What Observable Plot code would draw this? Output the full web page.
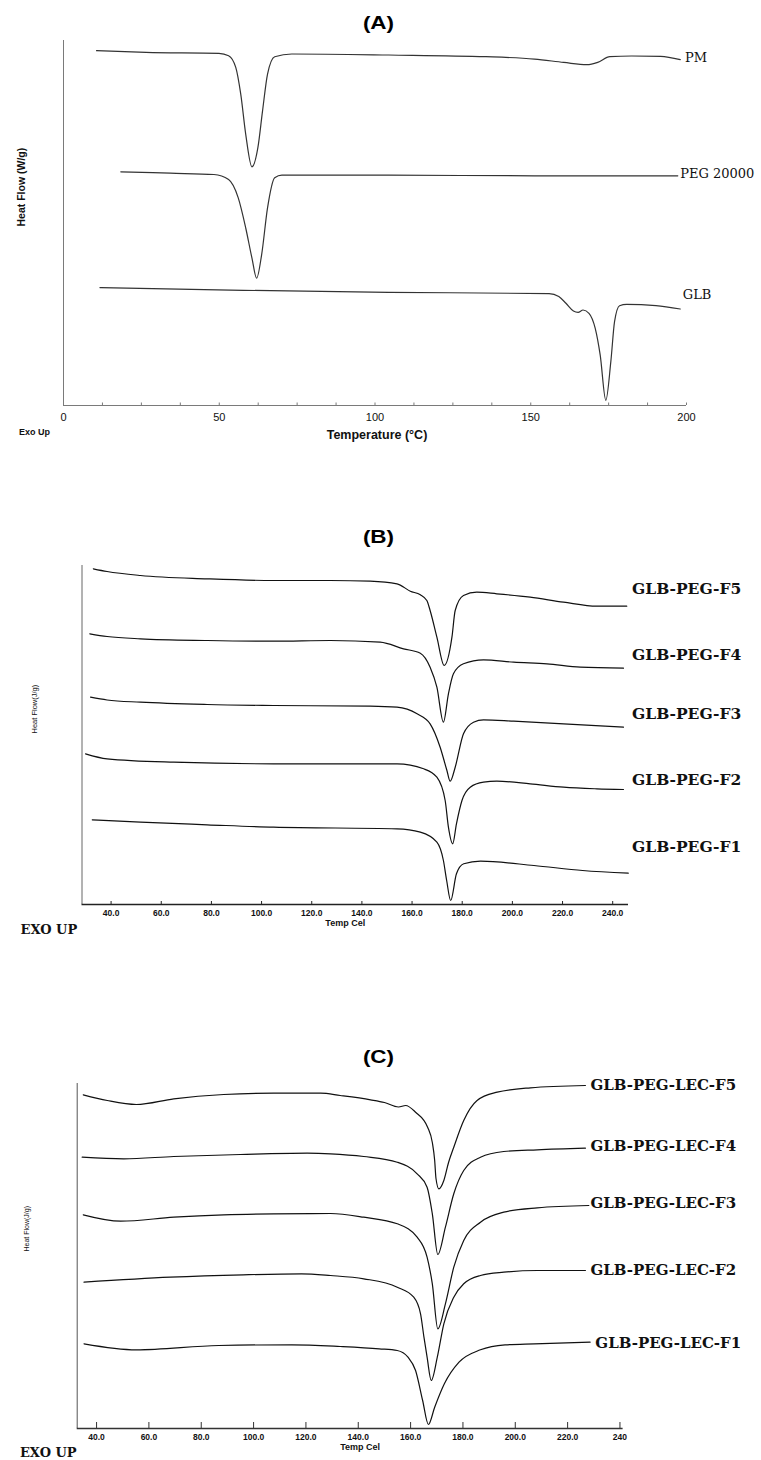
<!DOCTYPE html>
<html>
<head>
<meta charset="utf-8">
<script src="https://cdn.jsdelivr.net/npm/d3@7"></script>
<script src="https://cdn.jsdelivr.net/npm/@observablehq/plot@0.6"></script>
<style>
  body { margin: 0; background: #fff; }
  #page { position: relative; width: 761px; height: 1460px; overflow: hidden; font-family: "Liberation Sans", Arial, sans-serif; }
  .title { position: absolute; left: 278px; width: 200px; text-align: center; font-weight: bold; font-size: 18px; line-height: 18px; color: #000; }
  .title span { display: inline-block; transform: scaleX(1.25); }
  .panel { position: absolute; left: 0; }
  .panel svg { overflow: visible; }
</style>
</head>
<body>
<div id="page"></div>
<script>
// ---------------- Panel A (DSC: PM, PEG 20000, GLB) ----------------
const aSeries = ["PM", "PEG 20000", "GLB"];
const pmTemp = [10.6, 26.5, 49.9, 53, 55.3, 56.9, 58.5, 60.5, 62.4, 63.9, 65.5, 67.8, 73.3, 104.4, 135.6, 151.2, 160.6, 168, 171.5, 175.4, 182.4, 191.7, 198];
const pmHF   = [35.48, 35.31, 35.21, 34.98, 33.81, 31.13, 27.12, 23.87, 25.78, 29.46, 33.14, 34.88, 35.15, 35.05, 34.88, 34.64, 34.31, 34.08, 34.31, 34.88, 34.95, 34.91, 34.58];
const pegTemp = [18.4, 34.3, 48.3, 53, 56.1, 58.5, 60.5, 62, 63.6, 65.5, 67.8, 70.1, 104.4, 151.2, 197.2];
const pegHF   = [23.37, 23.23, 23.1, 22.6, 20.76, 17.75, 14.74, 12.73, 15.07, 19.76, 22.77, 23.03, 23.03, 22.97, 22.97];
const glbTemp = [11.7, 57.7, 104.4, 155.9, 159, 161.3, 163.7, 165.2, 166.8, 168.7, 170.7, 172.3, 174.1, 175.7, 176.9, 178.5, 180.8, 190.2, 198];
const glbHF   = [11.79, 11.52, 11.32, 11.19, 10.89, 10.22, 9.45, 9.32, 9.55, 9.22, 7.71, 5.03, 0.52, 4.36, 8.38, 9.98, 10.12, 9.98, 9.65];
const aLabelTemp = [199.5, 198, 198.8];
const aLabelHF = [34.81, 23.17, 11.05];
const aTicks = [0, 50, 100, 150, 200];
const aTickLabels = ["0", "50", "100", "150", "200"];
const aMinorTicks = [12.5, 25, 37.5, 62.5, 75, 87.5, 112.5, 125, 137.5, 162.5, 175, 187.5];
const aDomainX = [0, 200];
const aDomainY = [0, 36.5];

// ---------------- Panel B (GLB-PEG F1–F5) ----------------
const bSeries = ["GLB-PEG-F5", "GLB-PEG-F4", "GLB-PEG-F3", "GLB-PEG-F2", "GLB-PEG-F1"];
const bF5Temp = [32.9, 38.4, 51.7, 78.3, 104.8, 127.4, 143.3, 154, 159.3, 163.3, 165.9, 167.2, 169.9, 172.8, 175.9, 177.2, 180.5, 185.8, 193.8, 207.1, 220.4, 233.7, 245.6];
const bF5HF   = [33.57, 33.3, 32.9, 32.57, 32.4, 32.4, 32.33, 32.07, 31.33, 30.97, 30.4, 29.4, 26.73, 23.9, 26.73, 29.4, 30.9, 31.23, 31.07, 30.73, 30.23, 29.83, 29.83];
const bF4Temp = [31.5, 38.4, 51.7, 78.3, 104.8, 127.4, 147.3, 156.6, 163.3, 167.2, 169.9, 172.5, 174.5, 176.5, 180.5, 188.5, 200.5, 213.8, 227.1, 244.3];
const bF4HF   = [27.07, 26.8, 26.57, 26.4, 26.33, 26.4, 26.23, 25.57, 25.13, 23.73, 21.73, 18.23, 21.07, 23.07, 24.07, 24.47, 24.23, 24.07, 23.73, 23.63];
const bF3Temp = [31.8, 38.4, 51.7, 78.3, 104.8, 143.3, 154, 162, 167.2, 171.2, 173.9, 175.2, 177.2, 180.5, 184.5, 188.5, 200.5, 220.4, 244.3];
const bF3HF   = [20.73, 20.45, 20.23, 20.0, 19.9, 19.83, 19.73, 19.07, 18.07, 15.73, 13.4, 12.33, 13.73, 17.07, 18.23, 18.47, 18.33, 18.07, 17.73];
const bF2Temp = [29.8, 38.4, 65, 104.8, 154, 164.6, 169.9, 173.2, 174.5, 176.2, 177.7, 179.9, 183.2, 188.5, 193.8, 207.1, 220.4, 233.7, 244.3];
const bF2HF   = [15.07, 14.57, 14.23, 14.07, 14.07, 13.57, 12.73, 10.4, 7.73, 6.07, 8.07, 10.4, 11.73, 12.23, 12.33, 12.07, 11.73, 11.57, 11.5];
const bF1Temp = [32.5, 51.7, 78.3, 104.8, 154, 163.3, 169.9, 172.5, 173.8, 175.4, 177.7, 180.6, 187.3, 208.6, 228, 246.2];
const bF1HF   = [8.47, 8.23, 7.97, 7.73, 7.57, 7.23, 6.23, 4.4, 2.4, 0.4, 3.07, 4.07, 4.33, 3.9, 3.4, 3.13];
const bLabelTemp = [247.7, 247.7, 247.7, 247.7, 247.7];
const bLabelHF = [31.57, 24.9, 19.0, 12.4, 5.73];
const bTicks = [40, 60, 80, 100, 120, 140, 160, 180, 200, 220, 240];
const bTickLabels = ["40.0", "60.0", "80.0", "100.0", "120.0", "140.0", "160.0", "180.0", "200.0", "220.0", "240.0"];
const bDomainX = [28.4, 246.3];
const bDomainY = [0, 33.9];

// ---------------- Panel C (GLB-PEG-LEC F1–F5) ----------------
const cSeries = ["GLB-PEG-LEC-F5", "GLB-PEG-LEC-F4", "GLB-PEG-LEC-F3", "GLB-PEG-LEC-F2", "GLB-PEG-LEC-F1"];
const cF5Temp = [34.9, 44.1, 55.2, 69.5, 88.6, 107.7, 125.6, 133.1, 144.7, 150, 155.4, 158.1, 161.9, 166.5, 168.3, 169.2, 169.7, 170.8, 172.7, 174.5, 176.5, 180.3, 185.4, 193.1, 205.8, 226.8];
const cF5HF   = [33.37, 32.8, 32.4, 32.97, 33.4, 33.53, 33.53, 33.3, 32.87, 32.6, 32.15, 32.3, 31.63, 30.13, 28.6, 26.8, 25.0, 23.97, 24.8, 26.6, 28.13, 30.8, 32.8, 33.63, 34.07, 34.3];
const cF4Temp = [34.5, 50.4, 69.5, 95, 120.5, 129.4, 142.1, 154.9, 162.5, 166.3, 168.3, 170.4, 173.3, 176.5, 180.3, 186.7, 195.6, 208.4, 226.8];
const cF4HF   = [27.13, 26.97, 27.2, 27.4, 27.53, 27.47, 27.2, 26.63, 25.47, 24.13, 21.47, 17.4, 20.13, 23.47, 25.8, 27.13, 27.7, 27.87, 28.03];
const cF3Temp = [34.9, 49.2, 69.5, 88.6, 107.7, 129.4, 142.1, 154.9, 162.5, 166.3, 168.3, 170.4, 173.3, 176.5, 180.3, 186.7, 195.6, 208.4, 228.1];
const cF3HF   = [21.37, 20.73, 21.13, 21.37, 21.47, 21.5, 21.13, 20.47, 19.13, 17.13, 14.47, 9.97, 12.47, 16.13, 18.8, 20.63, 21.63, 22.07, 22.3];
const cF2Temp = [35.2, 68.2, 96, 118.3, 129.4, 142.1, 154.9, 161.2, 163.8, 165.1, 166.3, 167.9, 170.2, 172.7, 176.5, 180.3, 186.7, 195.6, 208.4, 226.8];
const cF2HF   = [14.63, 15.13, 15.37, 15.47, 15.3, 14.97, 14.13, 13.13, 11.47, 9.13, 7.13, 4.8, 7.13, 10.47, 13.13, 14.47, 15.3, 15.63, 15.8, 15.8];
const cF1Temp = [35.2, 55.2, 86.7, 114.6, 133.1, 148, 154.9, 159, 161.9, 164.6, 166.8, 169.2, 172.9, 178.5, 186.7, 196.1, 207.3, 228.6];
const cF1HF   = [8.47, 7.87, 8.3, 8.37, 8.2, 7.97, 7.8, 7.13, 5.8, 2.8, 0.4, 2.13, 4.47, 6.63, 7.87, 8.37, 8.47, 8.63];
const cLabelTemp = [228.7, 228.7, 228.7, 228.7, 230.6];
const cLabelHF = [34.3, 28.2, 22.57, 15.87, 8.53];
const cTicks = [40, 60, 80, 100, 120, 140, 160, 180, 200, 220, 240];
const cTickLabels = ["40.0", "60.0", "80.0", "100.0", "120.0", "140.0", "160.0", "180.0", "200.0", "220.0", "240"];
const cDomainX = [32.6, 241.2];
const cDomainY = [0, 34.5];

// ---------------- helpers ----------------
function rowsOf(names, temps, hfs) {
  return names.flatMap((s, k) => temps[k].map((t, i) => ({series: s, t, hf: hfs[k][i]})));
}

function makePanel(o) {
  const frameH = o.height - o.marginTop - o.marginBottom;
  const tickMap = new Map(o.ticks.map((t, i) => [t, o.tickLabels[i]]));
  const labels = o.series.map((s, i) => ({s, t: o.labelTemp[i], hf: o.labelHF[i]}));
  return Plot.plot({
    width: 761,
    height: o.height,
    marginTop: o.marginTop,
    marginBottom: o.marginBottom,
    marginLeft: o.marginLeft,
    marginRight: o.marginRight,
    style: {background: "transparent", fontFamily: "'Liberation Sans', Arial, sans-serif",
            fontSize: o.tickFontSize + "px", fontWeight: o.tickWeight, color: "#111", overflow: "visible"},
    x: {domain: o.xDomain, ticks: o.ticks, tickFormat: d => tickMap.get(d), tickSize: 0, tickPadding: o.tickPadding, label: null},
    y: {domain: o.yDomain, axis: null},
    marks: [
      Plot.ruleX([o.xDomain[0]], {stroke: o.yAxisColor, strokeWidth: 1}),
      Plot.ruleY([o.yDomain[0]], {stroke: o.xAxisColor, strokeWidth: o.xAxisWidth}),
      Plot.tickX(o.allTicks, {x: d => d, insetTop: frameH - o.tickLen, stroke: o.xAxisColor, strokeWidth: 1}),
      Plot.line(o.rows, {x: "t", y: "hf", z: "series", curve: "monotone-x", stroke: o.lineColor, strokeWidth: o.lineWidth}),
      Plot.text(labels, {x: "t", y: "hf", text: "s", textAnchor: "start", lineAnchor: "middle",
        fontFamily: "'DejaVu Serif', serif", fontSize: o.labelSize, fontWeight: o.labelWeight, fill: "#111"}),
      Plot.text([o.xLabel], {frameAnchor: "bottom", dx: o.xLabelDx, dy: o.xLabelDy, lineAnchor: "middle",
        fontSize: o.xLabelSize, fontWeight: "bold", fill: "#111"}),
      Plot.text([o.exoLabel], {frameAnchor: "bottom-left", dx: o.exoDx, dy: o.exoDy, textAnchor: "start", lineAnchor: "middle",
        fontFamily: o.exoFont, fontSize: o.exoSize, fontWeight: "bold", fill: "#111"}),
      Plot.text([o.yLabel], {frameAnchor: "left", rotate: -90, dx: o.yLabelDx, dy: o.yLabelDy, lineAnchor: "middle",
        fontSize: o.yLabelSize, fontWeight: o.yLabelWeight, fill: "#111"})
    ]
  });
}

const page = document.getElementById("page");
function addTitle(text, top) {
  const d = document.createElement("div");
  d.className = "title";
  d.style.top = top + "px";
  const sp = document.createElement("span");
  sp.textContent = text;
  d.appendChild(sp);
  page.appendChild(d);
}
function addPanel(svg, top) {
  const d = document.createElement("div");
  d.className = "panel";
  d.style.top = top + "px";
  d.appendChild(svg);
  page.appendChild(d);
}

// Panel A
addTitle("(A)", 14);
addPanel(makePanel({
  series: aSeries,
  rows: rowsOf(aSeries, [pmTemp, pegTemp, glbTemp], [pmHF, pegHF, glbHF]),
  labelTemp: aLabelTemp, labelHF: aLabelHF,
  height: 445, marginTop: 40, marginBottom: 40, marginLeft: 63, marginRight: 75,
  xDomain: aDomainX, yDomain: aDomainY,
  ticks: aTicks, tickLabels: aTickLabels, allTicks: aTicks.concat(aMinorTicks),
  tickFontSize: 11, tickWeight: "normal", tickPadding: 7.5, tickLen: 2.5,
  xAxisColor: "#7a7a7a", yAxisColor: "#7a7a7a", xAxisWidth: 1.2,
  lineColor: "#333", lineWidth: 1.2,
  labelSize: 13, labelWeight: "normal",
  xLabel: "Temperature (°C)", xLabelDx: 2, xLabelDy: 29, xLabelSize: 12.5,
  exoLabel: "Exo Up", exoDx: -44.6, exoDy: 27, exoSize: 9, exoFont: "'Liberation Sans', Arial, sans-serif",
  yLabel: "Heat Flow (W/g)", yLabelDx: -42, yLabelDy: 3.5, yLabelSize: 10.5, yLabelWeight: "bold"
}), 0);

// Panel B
addTitle("(B)", 527.5);
addPanel(makePanel({
  series: bSeries,
  rows: rowsOf(bSeries, [bF5Temp, bF4Temp, bF3Temp, bF2Temp, bF1Temp], [bF5HF, bF4HF, bF3HF, bF2HF, bF1HF]),
  labelTemp: bLabelTemp, labelHF: bLabelHF,
  height: 464, marginTop: 85, marginBottom: 40, marginLeft: 81.5, marginRight: 133,
  xDomain: bDomainX, yDomain: bDomainY,
  ticks: bTicks, tickLabels: bTickLabels, allTicks: bTicks,
  tickFontSize: 8.5, tickWeight: "bold", tickPadding: 5, tickLen: 3,
  xAxisColor: "#222", yAxisColor: "#666", xAxisWidth: 1.5,
  lineColor: "#111", lineWidth: 1.2,
  labelSize: 15.5, labelWeight: "bold",
  xLabel: "Temp Cel", xLabelDx: -10, xLabelDy: 18.5, xLabelSize: 9,
  exoLabel: "EXO UP", exoDx: -61.5, exoDy: 25.5, exoSize: 13, exoFont: "'DejaVu Serif', serif",
  yLabel: "Heat Flow(J/g)", yLabelDx: -47.5, yLabelDy: -1.5, yLabelSize: 7.5, yLabelWeight: "normal"
}), 480);

// Panel C
addTitle("(C)", 1048);
addPanel(makePanel({
  series: cSeries,
  rows: rowsOf(cSeries, [cF5Temp, cF4Temp, cF3Temp, cF2Temp, cF1Temp], [cF5HF, cF4HF, cF3HF, cF2HF, cF1HF]),
  labelTemp: cLabelTemp, labelHF: cLabelHF,
  height: 460, marginTop: 83, marginBottom: 32, marginLeft: 76.7, marginRight: 138.4,
  xDomain: cDomainX, yDomain: cDomainY,
  ticks: cTicks, tickLabels: cTickLabels, allTicks: cTicks,
  tickFontSize: 8.5, tickWeight: "bold", tickPadding: 5, tickLen: 6,
  xAxisColor: "#333", yAxisColor: "#555", xAxisWidth: 1.5,
  lineColor: "#111", lineWidth: 1.2,
  labelSize: 15, labelWeight: "bold",
  xLabel: "Temp Cel", xLabelDx: 10, xLabelDy: 18.5, xLabelSize: 9,
  exoLabel: "EXO UP", exoDx: -57.3, exoDy: 24.7, exoSize: 13, exoFont: "'DejaVu Serif', serif",
  yLabel: "Heat Flow(J/g)", yLabelDx: -50, yLabelDy: -4.5, yLabelSize: 7, yLabelWeight: "normal"
}), 1000);
</script>
</body>
</html>
